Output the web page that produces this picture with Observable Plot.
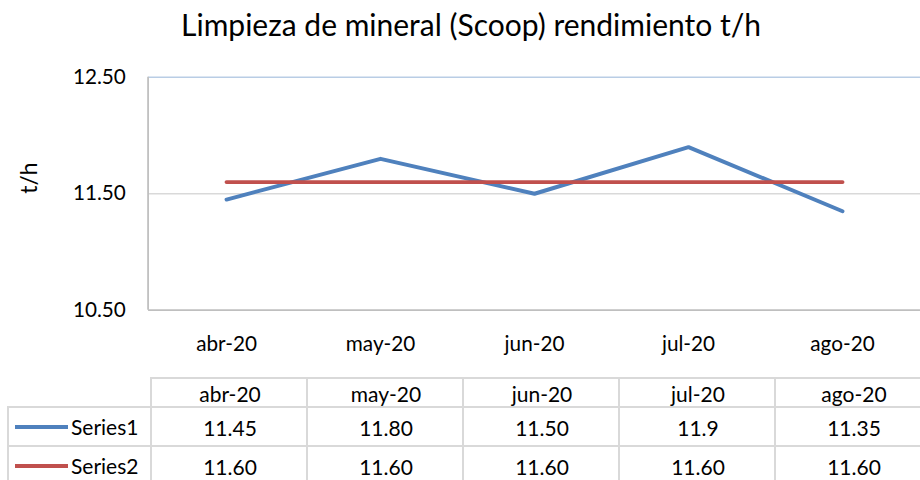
<!DOCTYPE html>
<html>
<head>
<meta charset="utf-8">
<script src="https://cdn.jsdelivr.net/npm/d3@7"></script>
<script src="https://cdn.jsdelivr.net/npm/@observablehq/plot@0.6"></script>
<style>
  html, body { margin: 0; padding: 0; background: #fff; }
  body { font-family: Lato, "Liberation Sans", sans-serif; color: #000; }
  #wrap { position: relative; width: 920px; height: 480px; overflow: hidden; }
  #title { position: absolute; left: 0; top: 5px; width: 942px; text-align: center; font-size: 30px; line-height: 38px; white-space: nowrap; }
  #chart { position: absolute; left: 0; top: 60px; }
  .cell { position: absolute; box-sizing: border-box; border-left: 2px solid #d9d9d9; border-top: 2px solid #d9d9d9;
          display: flex; align-items: center; justify-content: center; font-size: 21px; white-space: nowrap; }
  .key { position: absolute; height: 4px; }
  .lab { position: absolute; font-size: 21px; }
</style>
</head>
<body>
<div id="wrap">
  <div id="title"></div>
  <div id="chart"></div>
  <div id="table"></div>
</div>
<script>
const titleText = "Limpieza de mineral (Scoop) rendimiento t/h";
const yLabel = "t/h";
const months = ["abr-20", "may-20", "jun-20", "jul-20", "ago-20"];
const seriesNames = ["Series1", "Series2"];
const series1 = [11.45, 11.80, 11.50, 11.9, 11.35];
const series2 = [11.60, 11.60, 11.60, 11.60, 11.60];
const series1Labels = ["11.45", "11.80", "11.50", "11.9", "11.35"];
const series2Labels = ["11.60", "11.60", "11.60", "11.60", "11.60"];
const yTicks = [10.5, 11.5, 12.5];
const colors = ["#4f81bd", "#c0504d"];

document.getElementById("title").textContent = titleText;

const data1 = months.map((m, i) => ({month: m, value: series1[i]}));
const data2 = months.map((m, i) => ({month: m, value: series2[i]}));

const leftLine = (index, scales, values, dimensions) => {
  const l = d3.create("svg:line")
    .attr("x1", dimensions.marginLeft).attr("x2", dimensions.marginLeft)
    .attr("y1", scales.y(12.5)).attr("y2", scales.y(10.5))
    .attr("stroke", "#bfbfbf").attr("stroke-width", 1.8);
  return l.node();
};

const chart = Plot.plot({
  width: 932,
  height: 300,
  marginLeft: 150,
  marginRight: 0,
  marginTop: 17,
  marginBottom: 47,
  style: {fontFamily: "Lato, 'Liberation Sans', sans-serif", fontSize: "21px", color: "#000", background: "transparent", overflow: "visible"},
  x: {type: "point", domain: months, padding: 0.5},
  y: {domain: [10.5, 12.5]},
  marks: [
    Plot.ruleY([11.5], {stroke: "#d9d9d9", strokeWidth: 1.5}),
    Plot.ruleY([12.5], {stroke: "#b9cde5", strokeWidth: 1.5}),
    Plot.ruleY([10.5], {stroke: "#bfbfbf", strokeWidth: 1.8}),
    leftLine,
    Plot.axisY(yTicks, {tickSize: 0, tickPadding: 23, tickFormat: d3.format(".2f"), label: null, fill: "#000"}),
    Plot.text([yLabel], {frameAnchor: "left", rotate: -90, dx: -120, fontSize: 23, fill: "#000"}),
    Plot.axisX({tickSize: 0, tickPadding: 26, label: null, fill: "#000"}),
    Plot.line(data1, {x: "month", y: "value", stroke: colors[0], strokeWidth: 4}),
    Plot.line(data2, {x: "month", y: "value", stroke: colors[1], strokeWidth: 4})
  ]
});
document.getElementById("chart").appendChild(chart);

// Data table aligned with the chart's x scale
const xs = chart.scale("x");
const centers = months.map(m => xs.apply(m));
const step = centers[1] - centers[0];
const table = document.getElementById("table");
const rowTops = [377, 406, 445];
const rowHeights = [29, 39, 39];
function cell(left, top, w, h, text) {
  const d = document.createElement("div");
  d.className = "cell";
  d.style.left = left + "px"; d.style.top = top + "px";
  d.style.width = w + "px"; d.style.height = h + "px";
  if (text != null) d.textContent = text;
  table.appendChild(d);
  return d;
}
months.forEach((m, i) => {
  const left = centers[i] - step / 2 - 1;
  cell(left, rowTops[0], step + 2, rowHeights[0] + 2, m);
  cell(left, rowTops[1], step + 2, rowHeights[1] + 2, series1Labels[i]);
  cell(left, rowTops[2], step + 2, rowHeights[2] + 2, series2Labels[i]);
});
const firstLeft = centers[0] - step / 2 - 1;
[series1Labels, series2Labels].forEach((_, r) => {
  const top = rowTops[r + 1];
  const h = rowHeights[r + 1];
  cell(7, top, firstLeft - 7 + 2, h + 2, null);
  const key = document.createElement("div");
  key.className = "key";
  key.style.left = "15px"; key.style.width = "53px";
  key.style.top = (top + 1 + h / 2 - 2) + "px";
  key.style.background = colors[r];
  table.appendChild(key);
  const lab = document.createElement("div");
  lab.className = "lab";
  lab.textContent = seriesNames[r];
  lab.style.left = "71px";
  lab.style.top = (top + 1 + h / 2 - 13) + "px";
  lab.style.lineHeight = "26px";
  table.appendChild(lab);
});
</script>
</body>
</html>
